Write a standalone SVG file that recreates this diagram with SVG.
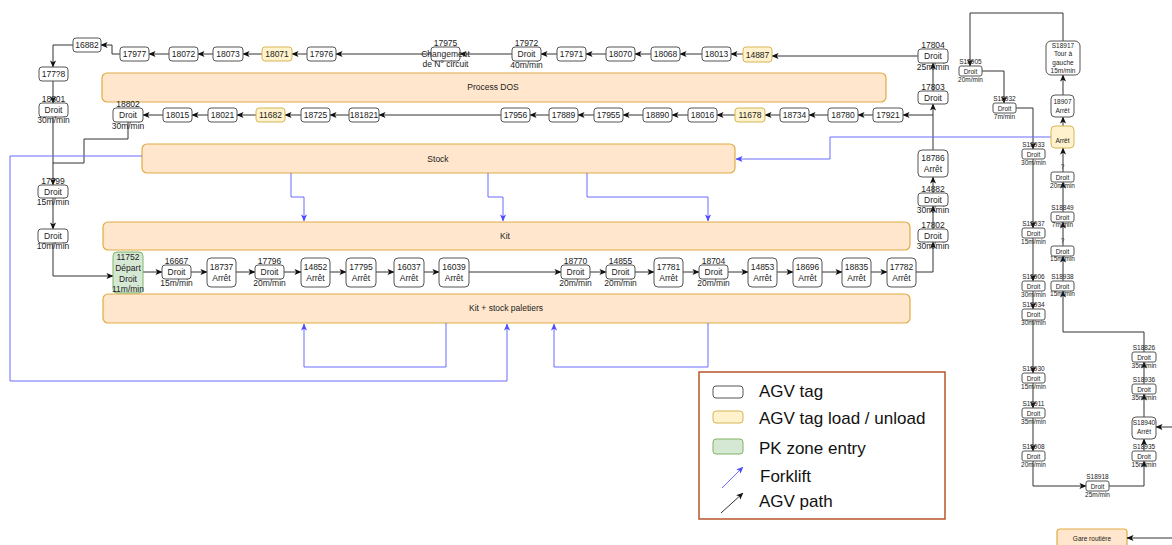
<svg xmlns="http://www.w3.org/2000/svg" width="1172" height="545" viewBox="0 0 1172 545">
<style>
.n{fill:#fff;stroke:#555;stroke-width:1}
.y{fill:#fff2cc;stroke:#d6b656;stroke-width:1}
.g{fill:#d5e8d4;stroke:#82b366;stroke-width:1}
.b{fill:#ffe6cc;stroke:#e0ac45;stroke-width:1.2}
.t{font-family:"Liberation Sans",Arial,sans-serif;font-size:8.5px;fill:#222;text-anchor:middle}
.s{font-family:"Liberation Sans",Arial,sans-serif;font-size:6.5px;fill:#222;text-anchor:middle}
.l{font-family:"Liberation Sans",Arial,sans-serif;font-size:17px;fill:#111}
.e{fill:none;stroke:#333;stroke-width:1;marker-end:url(#a)}
.p{fill:none;stroke:#333;stroke-width:1}
.f{fill:none;stroke:#6b6bff;stroke-width:1;marker-end:url(#bl)}
</style>
<defs>
<marker id="a" viewBox="0 0 8 8" refX="7.5" refY="4" markerWidth="7" markerHeight="7" markerUnits="userSpaceOnUse" orient="auto"><path d="M0,0.5 L8,4 L0,7.5 L2,4 z" fill="#111"/></marker>
<marker id="bl" viewBox="0 0 8 8" refX="7.5" refY="4" markerWidth="7" markerHeight="7" markerUnits="userSpaceOnUse" orient="auto"><path d="M0,0.5 L8,4 L0,7.5 L2,4 z" fill="#4b4bff"/></marker>
</defs>
<rect width="1172" height="545" fill="#fff"/>

<!-- bands -->
<g id="process-dos"><rect class="b" x="102" y="73" width="784" height="29" rx="5"/><text class="t" x="493" y="90">Process DOS</text></g>
<g id="stock"><rect class="b" x="142" y="144" width="593" height="29" rx="5"/><text class="t" x="438" y="162">Stock</text></g>
<g id="kit"><rect class="b" x="103" y="222" width="807" height="28" rx="5"/><text class="t" x="505" y="239">Kit</text></g>
<g id="kit-stock"><rect class="b" x="103" y="294" width="807" height="29" rx="5"/><text class="t" x="506" y="311">Kit + stock paletiers</text></g>
<g id="gare"><rect class="b" x="1057" y="529" width="70" height="22" rx="3"/><text class="s" x="1092" y="541">Gare routière</text></g>

<!-- connectors -->
<g id="connectors">
<path class="e" d="M918,56 H772"/>
<path class="e" d="M743,54 H731"/>
<path class="e" d="M702,54 H680"/>
<path class="e" d="M651,54 H635"/>
<path class="e" d="M606,54 H586"/>
<path class="e" d="M557,54 H541"/>
<path class="e" d="M512,54 H460"/>
<path class="e" d="M431,54 H336"/>
<path class="e" d="M307,54 H292"/>
<path class="e" d="M262,54 H243"/>
<path class="e" d="M213,54 H198"/>
<path class="e" d="M169,54 H149"/>
<path class="e" d="M120,54 H112 V45 H101"/>
<path class="e" d="M73,45 H53 V67"/>
<path class="e" d="M53,81 V103"/>
<path class="e" d="M53,117 V185"/>
<path class="p" d="M128,122 V139 H84 V163 H53"/>
<path class="e" d="M53,198 V229"/>
<path class="e" d="M53,243 V276 H113"/>

<path class="e" d="M933,115 H903"/>
<path class="e" d="M873,115 H858"/>
<path class="e" d="M828,115 H809"/>
<path class="e" d="M780,115 H765"/>
<path class="e" d="M735,115 H717"/>
<path class="e" d="M688,115 H672"/>
<path class="e" d="M643,115 H623"/>
<path class="e" d="M594,115 H578"/>
<path class="e" d="M549,115 H530"/>
<path class="e" d="M501,115 H379"/>
<path class="e" d="M349,115 H330"/>
<path class="e" d="M301,115 H285"/>
<path class="e" d="M256,115 H237"/>
<path class="e" d="M208,115 H192"/>
<path class="e" d="M163,115 H143"/>

<path class="e" d="M916,272 H933 V242"/>
<path class="e" d="M933,229 V206"/>
<path class="e" d="M933,193 V177"/>
<path class="e" d="M933,150 V104"/>
<path class="e" d="M933,91 V63"/>

<path class="e" d="M143,272 H162"/>
<path class="e" d="M191,272 H207"/>
<path class="e" d="M236,272 H255"/>
<path class="e" d="M284,272 H301"/>
<path class="e" d="M330,272 H346"/>
<path class="e" d="M376,272 H394"/>
<path class="e" d="M424,272 H439"/>
<path class="e" d="M469,272 H561"/>
<path class="e" d="M590,272 H606"/>
<path class="e" d="M635,272 H654"/>
<path class="e" d="M683,272 H699"/>
<path class="e" d="M728,272 H748"/>
<path class="e" d="M777,272 H793"/>
<path class="e" d="M822,272 H842"/>
<path class="e" d="M871,272 H887"/>

<path class="e" d="M1063,281 V256"/>
<path class="e" d="M1063,246 V222"/>
<path class="e" d="M1063,212 V182"/>
<path class="e" d="M1063,172 V148"/>
<path class="e" d="M1063,126 V117"/>
<path class="e" d="M1063,95 V75"/>
<path class="e" d="M1063,41 V13 H970 V66"/>
<path class="e" d="M982,71 H1004 V103"/>
<path class="e" d="M1016,108 H1033 V149"/>
<path class="e" d="M1033,159 V228"/>
<path class="e" d="M1033,238 V281"/>
<path class="e" d="M1033,291 V309"/>
<path class="e" d="M1033,320 V373"/>
<path class="e" d="M1033,383 V408"/>
<path class="e" d="M1033,418 V451"/>
<path class="e" d="M1033,461 V486 H1086"/>
<path class="e" d="M1109,486 H1144 V461"/>
<path class="e" d="M1144,451 V439"/>
<path class="e" d="M1144,417 V394"/>
<path class="e" d="M1144,384 V362"/>
<path class="e" d="M1144,352 V332 H1063 V291"/>
<path class="e" d="M1172,427 H1156"/>
<path class="e" d="M1172,538 H1127"/>

<path class="f" d="M1051,137 H830 V159 H736"/>
<path class="f" d="M291,173 V197 H304 V221"/>
<path class="f" d="M488,173 V197 H503 V221"/>
<path class="f" d="M587,173 V197 H708 V221"/>
<path class="f" d="M142,156 H10 V381 H507 V324"/>
<path class="f" d="M446,323 V367 H304 V324"/>
<path class="f" d="M708,323 V367 H554 V324"/>
</g>

<!-- row 1 -->
<g id="n16882"><rect class="n" x="73" y="38" width="28" height="14" rx="3"/><text class="t" x="87" y="48">16882</text></g>
<g id="n17977"><rect class="n" x="120" y="47" width="29" height="14" rx="3"/><text class="t" x="134.5" y="57">17977</text></g>
<g id="n18072"><rect class="n" x="169" y="47" width="29" height="14" rx="3"/><text class="t" x="183.5" y="57">18072</text></g>
<g id="n18073"><rect class="n" x="213" y="47" width="30" height="14" rx="3"/><text class="t" x="228" y="57">18073</text></g>
<g id="n18071"><rect class="y" x="262" y="47" width="30" height="14" rx="3"/><text class="t" x="277" y="57">18071</text></g>
<g id="n17976"><rect class="n" x="307" y="47" width="29" height="14" rx="3"/><text class="t" x="321.5" y="57">17976</text></g>
<g id="n17975"><rect class="n" x="431" y="47" width="29" height="14" rx="3"/><text class="t" x="445.5" y="46">17975</text><text class="t" x="445.5" y="57">Changement</text><text class="t" x="445.5" y="67">de N° circuit</text></g>
<g id="n17972"><rect class="n" x="512" y="47" width="29" height="14" rx="3"/><text class="t" x="526.5" y="46">17972</text><text class="t" x="526.5" y="57">Droit</text><text class="t" x="526.5" y="68">40m/min</text></g>
<g id="n17971"><rect class="n" x="557" y="47" width="29" height="14" rx="3"/><text class="t" x="571.5" y="57">17971</text></g>
<g id="n18070"><rect class="n" x="606" y="47" width="29" height="14" rx="3"/><text class="t" x="620.5" y="57">18070</text></g>
<g id="n18068"><rect class="n" x="651" y="47" width="29" height="14" rx="3"/><text class="t" x="665.5" y="57">18068</text></g>
<g id="n18013"><rect class="n" x="702" y="47" width="29" height="14" rx="3"/><text class="t" x="716.5" y="57">18013</text></g>
<g id="n14887"><rect class="y" x="743" y="47" width="29" height="15" rx="3"/><text class="t" x="757.5" y="57.5">14887</text></g>
<g id="n17804"><rect class="n" x="918" y="49" width="30" height="14" rx="3"/><text class="t" x="933" y="48">17804</text><text class="t" x="933" y="59">Droit</text><text class="t" x="933" y="70">25m/min</text></g>

<!-- left column -->
<g id="n17778"><rect class="n" x="39" y="67" width="29" height="14" rx="3"/><text class="t" x="53.5" y="77">177?8</text></g>
<g id="n18801"><rect class="n" x="39" y="103" width="29" height="14" rx="3"/><text class="t" x="53.5" y="102">18801</text><text class="t" x="53.5" y="113">Droit</text><text class="t" x="53.5" y="123">30m/min</text></g>
<g id="n17799"><rect class="n" x="38" y="185" width="30" height="13" rx="3"/><text class="t" x="53" y="184">17799</text><text class="t" x="53" y="194.5">Droit</text><text class="t" x="53" y="205">15m/min</text></g>
<g id="n-droit10"><rect class="n" x="38" y="229" width="30" height="14" rx="3"/><text class="t" x="53" y="239">Droit</text><text class="t" x="53" y="249">10m/min</text></g>

<!-- row 2 -->
<g id="n18802"><rect class="n" x="113" y="108" width="30" height="14" rx="3"/><text class="t" x="128" y="107">18802</text><text class="t" x="128" y="118">Droit</text><text class="t" x="128" y="129">30m/min</text></g>
<g id="n18015"><rect class="n" x="163" y="108" width="29" height="14" rx="3"/><text class="t" x="177.5" y="118">18015</text></g>
<g id="n18021"><rect class="n" x="208" y="108" width="29" height="14" rx="3"/><text class="t" x="222.5" y="118">18021</text></g>
<g id="n11682"><rect class="y" x="256" y="108" width="29" height="14" rx="3"/><text class="t" x="270.5" y="118">11682</text></g>
<g id="n18725"><rect class="n" x="301" y="108" width="29" height="14" rx="3"/><text class="t" x="315.5" y="118">18725</text></g>
<g id="n181821"><rect class="n" x="349" y="108" width="30" height="14" rx="3"/><text class="t" x="364" y="118">181821</text></g>
<g id="n17956"><rect class="n" x="501" y="108" width="29" height="14" rx="3"/><text class="t" x="515.5" y="118">17956</text></g>
<g id="n17889"><rect class="n" x="549" y="108" width="29" height="14" rx="3"/><text class="t" x="563.5" y="118">17889</text></g>
<g id="n17955"><rect class="n" x="594" y="108" width="29" height="14" rx="3"/><text class="t" x="608.5" y="118">17955</text></g>
<g id="n18890"><rect class="n" x="643" y="108" width="29" height="14" rx="3"/><text class="t" x="657.5" y="118">18890</text></g>
<g id="n18016"><rect class="n" x="688" y="108" width="29" height="14" rx="3"/><text class="t" x="702.5" y="118">18016</text></g>
<g id="n11678"><rect class="y" x="735" y="108" width="30" height="14" rx="3"/><text class="t" x="750" y="118">11678</text></g>
<g id="n18734"><rect class="n" x="780" y="108" width="29" height="14" rx="3"/><text class="t" x="794.5" y="118">18734</text></g>
<g id="n18780"><rect class="n" x="828" y="108" width="30" height="14" rx="3"/><text class="t" x="843" y="118">18780</text></g>
<g id="n17921"><rect class="n" x="873" y="108" width="30" height="14" rx="3"/><text class="t" x="888" y="118">17921</text></g>

<!-- right vertical -->
<g id="n17803"><rect class="n" x="918" y="91" width="30" height="13" rx="3"/><text class="t" x="933" y="90">17803</text><text class="t" x="933" y="100.5">Droit</text></g>
<g id="n18786"><rect class="n" x="918" y="150" width="30" height="27" rx="4"/><text class="t" x="933" y="161">18786</text><text class="t" x="933" y="172">Arrêt</text></g>
<g id="n14882"><rect class="n" x="918" y="193" width="30" height="13" rx="3"/><text class="t" x="933" y="192">14882</text><text class="t" x="933" y="202.5">Droit</text><text class="t" x="933" y="213">30m/min</text></g>
<g id="n17802"><rect class="n" x="918" y="229" width="30" height="13" rx="3"/><text class="t" x="933" y="228">17802</text><text class="t" x="933" y="238.5">Droit</text><text class="t" x="933" y="249">30m/min</text></g>

<!-- row 3 -->
<g id="n11752"><rect class="g" x="113" y="252" width="30" height="41" rx="4"/><text class="t" x="128" y="260">11752</text><text class="t" x="128" y="271">Départ</text><text class="t" x="128" y="281.5">Droit</text><text class="t" x="128" y="292">11m/min</text></g>
<g id="n16667"><rect class="n" x="162" y="265" width="29" height="14" rx="3"/><text class="t" x="176.5" y="264">16667</text><text class="t" x="176.5" y="275">Droit</text><text class="t" x="176.5" y="286">15m/min</text></g>
<g id="n18737"><rect class="n" x="207" y="258" width="29" height="29" rx="4"/><text class="t" x="221.5" y="270">18737</text><text class="t" x="221.5" y="281">Arrêt</text></g>
<g id="n17796"><rect class="n" x="255" y="265" width="29" height="14" rx="3"/><text class="t" x="269.5" y="264">17796</text><text class="t" x="269.5" y="275">Droit</text><text class="t" x="269.5" y="286">20m/min</text></g>
<g id="n14852"><rect class="n" x="301" y="258" width="29" height="29" rx="4"/><text class="t" x="315.5" y="270">14852</text><text class="t" x="315.5" y="281">Arrêt</text></g>
<g id="n17795"><rect class="n" x="346" y="258" width="30" height="29" rx="4"/><text class="t" x="361" y="270">17795</text><text class="t" x="361" y="281">Arrêt</text></g>
<g id="n16037"><rect class="n" x="394" y="258" width="30" height="29" rx="4"/><text class="t" x="409" y="270">16037</text><text class="t" x="409" y="281">Arrêt</text></g>
<g id="n16039"><rect class="n" x="439" y="258" width="30" height="29" rx="4"/><text class="t" x="454" y="270">16039</text><text class="t" x="454" y="281">Arrêt</text></g>
<g id="n18770"><rect class="n" x="561" y="265" width="29" height="14" rx="3"/><text class="t" x="575.5" y="264">18770</text><text class="t" x="575.5" y="275">Droit</text><text class="t" x="575.5" y="286">20m/min</text></g>
<g id="n14855"><rect class="n" x="606" y="265" width="29" height="14" rx="3"/><text class="t" x="620.5" y="264">14855</text><text class="t" x="620.5" y="275">Droit</text><text class="t" x="620.5" y="286">20m/min</text></g>
<g id="n17781"><rect class="n" x="654" y="258" width="29" height="29" rx="4"/><text class="t" x="668.5" y="270">17781</text><text class="t" x="668.5" y="281">Arrêt</text></g>
<g id="n18704"><rect class="n" x="699" y="265" width="29" height="14" rx="3"/><text class="t" x="713.5" y="264">18704</text><text class="t" x="713.5" y="275">Droit</text><text class="t" x="713.5" y="286">20m/min</text></g>
<g id="n14853"><rect class="n" x="748" y="258" width="29" height="29" rx="4"/><text class="t" x="762.5" y="270">14853</text><text class="t" x="762.5" y="281">Arrêt</text></g>
<g id="n18696"><rect class="n" x="793" y="258" width="29" height="29" rx="4"/><text class="t" x="807.5" y="270">18696</text><text class="t" x="807.5" y="281">Arrêt</text></g>
<g id="n18835"><rect class="n" x="842" y="258" width="29" height="29" rx="4"/><text class="t" x="856.5" y="270">18835</text><text class="t" x="856.5" y="281">Arrêt</text></g>
<g id="n17782"><rect class="n" x="887" y="258" width="29" height="29" rx="4"/><text class="t" x="901.5" y="270">17782</text><text class="t" x="901.5" y="281">Arrêt</text></g>

<!-- right S chain -->
<g id="nS18917"><rect class="n" x="1046" y="41" width="34" height="34" rx="5"/><text class="s" x="1063" y="48">S18917</text><text class="s" x="1063" y="56">Tour à</text><text class="s" x="1063" y="65">gauche</text><text class="s" x="1063" y="73">15m/min</text></g>
<g id="n18907"><rect class="n" x="1051" y="95" width="23" height="22" rx="4"/><text class="s" x="1062.5" y="104">18907</text><text class="s" x="1062.5" y="112.5">Arrêt</text></g>
<g id="n-arret-y"><rect class="y" x="1051" y="126" width="23" height="22" rx="4"/><text class="s" x="1062.5" y="143">Arrêt</text></g>
<g id="n-q1"><rect class="n" x="1051" y="172" width="23" height="10" rx="2"/><text class="s" x="1062.5" y="169">?</text><text class="s" x="1062.5" y="179.5">Droit</text><text class="s" x="1062.5" y="188">20m/min</text></g>
<g id="nS18849"><rect class="n" x="1051" y="212" width="23" height="10" rx="2"/><text class="s" x="1062.5" y="210">S18849</text><text class="s" x="1062.5" y="219.5">Droit</text><text class="s" x="1062.5" y="227">7m/min</text></g>
<g id="n-q2"><rect class="n" x="1051" y="246" width="23" height="10" rx="2"/><text class="s" x="1062.5" y="243">?</text><text class="s" x="1062.5" y="253.5">Droit</text><text class="s" x="1062.5" y="261">15m/min</text></g>
<g id="nS18938"><rect class="n" x="1051" y="281" width="23" height="10" rx="2"/><text class="s" x="1062.5" y="279">S18938</text><text class="s" x="1062.5" y="288.5">Droit</text><text class="s" x="1062.5" y="296">15m/min</text></g>

<g id="nS18905"><rect class="n" x="959" y="66" width="23" height="10" rx="2"/><text class="s" x="970.5" y="64">S18905</text><text class="s" x="970.5" y="73.5">Droit</text><text class="s" x="970.5" y="82">20m/min</text></g>
<g id="nS18932"><rect class="n" x="993" y="103" width="23" height="10" rx="2"/><text class="s" x="1004.5" y="101">S18932</text><text class="s" x="1004.5" y="110.5">Droit</text><text class="s" x="1004.5" y="119">7m/min</text></g>
<g id="nS18933"><rect class="n" x="1022" y="149" width="23" height="10" rx="2"/><text class="s" x="1033.5" y="147">S18933</text><text class="s" x="1033.5" y="156.5">Droit</text><text class="s" x="1033.5" y="165">30m/min</text></g>
<g id="nS18937"><rect class="n" x="1022" y="228" width="23" height="10" rx="2"/><text class="s" x="1033.5" y="226">S18937</text><text class="s" x="1033.5" y="235.5">Droit</text><text class="s" x="1033.5" y="244">15m/min</text></g>
<g id="nS18906"><rect class="n" x="1022" y="281" width="23" height="10" rx="2"/><text class="s" x="1033.5" y="279">S18906</text><text class="s" x="1033.5" y="288.5">Droit</text><text class="s" x="1033.5" y="297">30m/min</text></g>
<g id="nS18934"><rect class="n" x="1022" y="309" width="23" height="11" rx="2"/><text class="s" x="1033.5" y="307">S18934</text><text class="s" x="1033.5" y="317">Droit</text><text class="s" x="1033.5" y="325">30m/min</text></g>
<g id="nS18930"><rect class="n" x="1022" y="373" width="23" height="10" rx="2"/><text class="s" x="1033.5" y="371">S18930</text><text class="s" x="1033.5" y="380.5">Droit</text><text class="s" x="1033.5" y="389">15m/min</text></g>
<g id="nS18911"><rect class="n" x="1022" y="408" width="23" height="10" rx="2"/><text class="s" x="1033.5" y="406">S18911</text><text class="s" x="1033.5" y="415.5">Droit</text><text class="s" x="1033.5" y="424">35m/min</text></g>
<g id="nS18908"><rect class="n" x="1022" y="451" width="23" height="10" rx="2"/><text class="s" x="1033.5" y="449">S18908</text><text class="s" x="1033.5" y="458.5">Droit</text><text class="s" x="1033.5" y="467">20m/min</text></g>
<g id="nS18918"><rect class="n" x="1086" y="481" width="23" height="10" rx="2"/><text class="s" x="1097.5" y="479">S18918</text><text class="s" x="1097.5" y="488.5">Droit</text><text class="s" x="1097.5" y="497">25m/min</text></g>
<g id="nS18935"><rect class="n" x="1132" y="451" width="24" height="10" rx="2"/><text class="s" x="1144" y="449">S18935</text><text class="s" x="1144" y="458.5">Droit</text><text class="s" x="1144" y="467">15m/min</text></g>
<g id="nS18940"><rect class="n" x="1132" y="417" width="24" height="22" rx="4"/><text class="s" x="1144" y="425">S18940</text><text class="s" x="1144" y="434">Arrêt</text></g>
<g id="nS18936"><rect class="n" x="1132" y="384" width="24" height="10" rx="2"/><text class="s" x="1144" y="382">S18936</text><text class="s" x="1144" y="391.5">Droit</text><text class="s" x="1144" y="400">35m/min</text></g>
<g id="nS18826"><rect class="n" x="1132" y="352" width="24" height="10" rx="2"/><text class="s" x="1144" y="350">S18826</text><text class="s" x="1144" y="359.5">Droit</text><text class="s" x="1144" y="368">35m/min</text></g>

<!-- legend -->
<g id="legend">
<rect x="699" y="372" width="246" height="147" fill="#fff" stroke="#b7562c" stroke-width="1.5"/>
<rect class="n" x="713" y="386" width="30" height="12" rx="3"/>
<text class="l" x="759" y="397">AGV tag</text>
<rect class="y" x="713" y="411" width="30" height="12" rx="3"/>
<text class="l" x="759" y="424">AGV tag load / unload</text>
<rect class="g" x="713" y="439" width="30" height="15" rx="3"/>
<text class="l" x="759" y="454">PK zone entry</text>
<path class="f" d="M722,488 L743,467"/>
<text class="l" x="760" y="482">Forklift</text>
<path class="e" d="M721,513 L743,493"/>
<text class="l" x="759" y="507">AGV path</text>
</g>
</svg>
